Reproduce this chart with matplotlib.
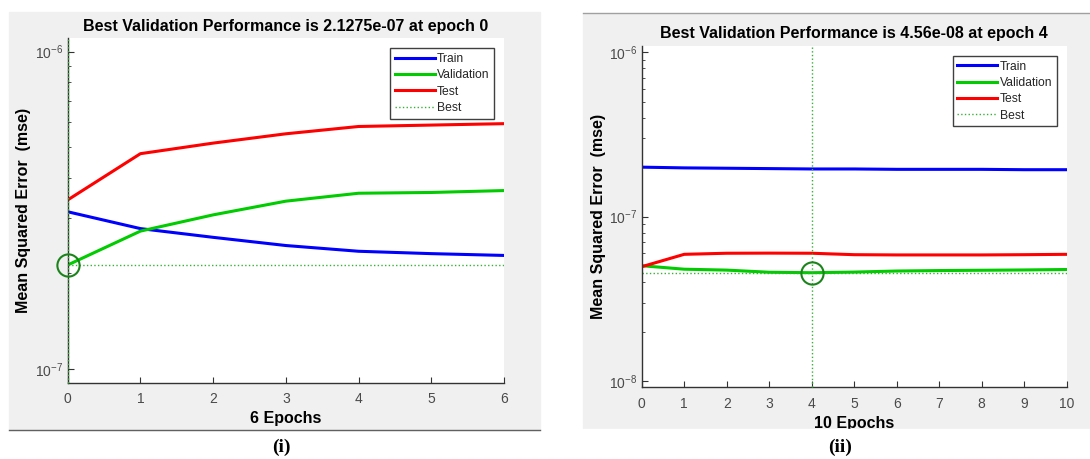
import matplotlib
matplotlib.use("Agg")
from matplotlib import pyplot as plt
from matplotlib.patches import Rectangle
from matplotlib.lines import Line2D
from matplotlib.ticker import LogLocator, NullFormatter

plt.rcParams["font.family"] = ["Liberation Sans", "DejaVu Sans"]
plt.rcParams["axes.unicode_minus"] = False

# panel (i)
epochs_i = [0, 1, 2, 3, 4, 5, 6]
train_i = [3.13e-7, 2.77e-7, 2.60e-7, 2.45e-7, 2.35e-7, 2.31e-7, 2.28e-7]
val_i = [2.1275e-7, 2.72e-7, 3.06e-7, 3.38e-7, 3.58e-7, 3.60e-7, 3.65e-7]
test_i = [3.41e-7, 4.77e-7, 5.15e-7, 5.51e-7, 5.81e-7, 5.87e-7, 5.93e-7]
best_i = (0, 2.1275e-7)
title_i = "Best Validation Performance is 2.1275e-07 at epoch 0"

# panel (ii)
epochs_ii = [0, 1, 2, 3, 4, 5, 6, 7, 8, 9, 10]
train_ii = [2.00e-7, 1.98e-7, 1.97e-7, 1.96e-7, 1.95e-7, 1.95e-7, 1.94e-7, 1.94e-7, 1.94e-7, 1.93e-7, 1.93e-7]
val_ii = [5.03e-8, 4.79e-8, 4.73e-8, 4.59e-8, 4.56e-8, 4.60e-8, 4.67e-8, 4.70e-8, 4.72e-8, 4.74e-8, 4.77e-8]
test_ii = [4.96e-8, 5.90e-8, 5.99e-8, 6.00e-8, 5.99e-8, 5.87e-8, 5.85e-8, 5.85e-8, 5.85e-8, 5.87e-8, 5.90e-8]
best_ii = (4, 4.56e-8)
title_ii = "Best Validation Performance is 4.56e-08 at epoch 4"

W, H = 1090, 459
fig = plt.figure(figsize=(W / 100, H / 100), dpi=100)


def fx(px):
    return px / W


def fy(py):
    return 1 - py / H


def box(x0, y0, x1, y1):
    return [fx(x0), fy(y1), fx(x1) - fx(x0), fy(y0) - fy(y1)]


# gray panel backgrounds
fig.add_artist(Rectangle((fx(9), fy(430)), fx(540) - fx(9), fy(12) - fy(430),
                         transform=fig.transFigure, color="#f0f0f0", zorder=-2))
fig.add_artist(Rectangle((fx(583), fy(428)), fx(1090) - fx(583), fy(14) - fy(428),
                         transform=fig.transFigure, color="#f0f0f0", zorder=-2))
fig.add_artist(Line2D([fx(9), fx(540)], [fy(430), fy(430)], transform=fig.transFigure,
                      color="#606060", lw=1))
fig.add_artist(Line2D([fx(583), fx(1090)], [fy(13.3), fy(13.3)], transform=fig.transFigure,
                      color="#a0a0a0", lw=1))

blue = "#0000ff"
green = "#00cc00"
red = "#ff0000"
best_col = "#33b233"
axis_col = "#333333"


def draw(ax, ep, tr, va, te, best, ylim):
    ax.plot(ep, tr, color=blue, lw=2.2, label="Train")
    ax.plot(ep, va, color=green, lw=2.2, label="Validation")
    ax.plot(ep, te, color=red, lw=2.2, label="Test")
    ax.plot([ep[0], ep[-1]], [best[1], best[1]], color=best_col, lw=1, ls=":", label="Best")
    ax.plot([best[0], best[0]], ylim, color=best_col, lw=1, ls=":", zorder=3, clip_on=False)
    ax.plot([best[0]], [best[1]], marker="o", ms=16, mfc="none", mec="#1a841a", mew=1.5,
            clip_on=False, zorder=4)
    ax.set_yscale("log")
    ax.set_xlim(ep[0], ep[-1])
    ax.set_ylim(*ylim)
    ax.set_xticks(ep)
    ax.yaxis.set_major_locator(LogLocator(base=10))
    ax.yaxis.set_minor_locator(LogLocator(base=10, subs=range(2, 10)))
    ax.yaxis.set_minor_formatter(NullFormatter())
    for s in ["top", "right"]:
        ax.spines[s].set_visible(False)
    for s in ["left", "bottom"]:
        ax.spines[s].set_color(axis_col)
        ax.spines[s].set_linewidth(1)
    ax.tick_params(which="major", direction="in", length=4, width=0.8, color=axis_col,
                   labelcolor="#4a4a4a", labelsize=10)
    ax.tick_params(which="minor", direction="in", length=2.5, width=0.6, color=axis_col)
    ax.tick_params(axis="x", pad=7)
    ax.tick_params(axis="y", pad=3)
    leg = ax.legend(loc="upper right", bbox_to_anchor=(1, 1), borderaxespad=0.8,
                    fontsize=8.7, handlelength=3.3, handletextpad=0.2, labelspacing=0.36,
                    borderpad=0.4, fancybox=False, framealpha=1, edgecolor="#404040")
    leg.get_frame().set_linewidth(1)
    for t in leg.get_texts():
        t.set_color("#262626")


ax1 = fig.add_axes(box(67.7, 38.3, 504, 382.7))
draw(ax1, epochs_i, train_i, val_i, test_i, best_i, (10 ** -7.043, 10 ** -5.958))
ax2 = fig.add_axes(box(641.7, 46, 1066.7, 387.3))
draw(ax2, epochs_ii, train_ii, val_ii, test_ii, best_ii, (10 ** -8.038, 10 ** -5.962))

bold = dict(fontsize=11.5, fontweight="bold", color="#000000", ha="center", va="center")
fig.text(fx(286), fy(26), title_i, **bold)
fig.text(fx(854), fy(33.3), title_ii, **bold)
fig.text(fx(24), fy(210.5), "Mean Squared Error  (mse)", rotation=90, **bold)
fig.text(fx(598), fy(216.7), "Mean Squared Error  (mse)", rotation=90, **bold)
fig.text(fx(286), fy(419), "6 Epochs", **bold)
fig.text(fx(854), fy(423.5), "10 Epochs", **bold)

# the right panel cuts off its x label
fig.add_artist(Rectangle((fx(583), fy(437)), fx(1090) - fx(583), fy(428.5) - fy(437),
                         transform=fig.transFigure, color="white", zorder=4))

cap = dict(fontsize=14, fontweight="bold", ha="center", va="center",
           family=["Liberation Serif", "DejaVu Serif"], zorder=5)
fig.text(fx(281), fy(447), "(i)", **cap)
fig.text(fx(840), fy(447), "(ii)", **cap)

fig.savefig("out.png", dpi=100)
